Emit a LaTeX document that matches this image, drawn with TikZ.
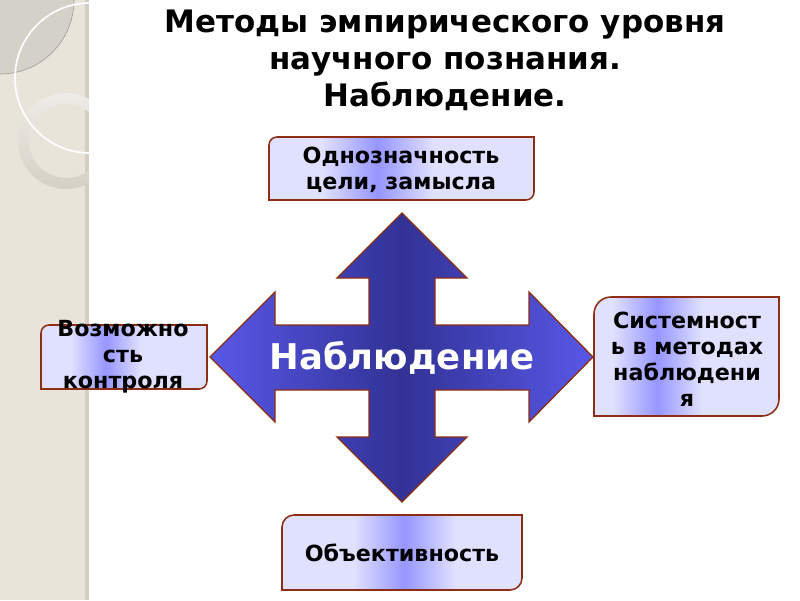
\documentclass[tikz,border=0pt]{standalone}
\usepackage{fontspec}
\setmainfont{DejaVu Sans}
\usetikzlibrary{positioning}
\definecolor{strip}{RGB}{233,228,217}
\definecolor{stripedge}{RGB}{212,206,194}
\definecolor{leaf}{RGB}{212,209,201}
\definecolor{ringlight}{RGB}{238,236,232}
\definecolor{ringdark}{RGB}{212,208,197}
\definecolor{frame}{RGB}{140,45,20}
\definecolor{lav}{RGB}{224,224,255}
\definecolor{band}{RGB}{150,150,255}
\definecolor{arrowdark}{RGB}{50,50,150}
\definecolor{arrowlight}{RGB}{88,88,232}
\pgfdeclarehorizontalshading{bandtop}{100bp}{color(0bp)=(lav); color(35bp)=(lav); color(45.5bp)=(band); color(56bp)=(lav); color(100bp)=(lav)}
\pgfdeclarehorizontalshading{bandleft}{100bp}{color(0bp)=(lav); color(34bp)=(lav); color(44.5bp)=(band); color(55bp)=(lav); color(100bp)=(lav)}
\pgfdeclarehorizontalshading{bandright}{100bp}{color(0bp)=(lav); color(30bp)=(lav); color(42bp)=(band); color(54bp)=(lav); color(100bp)=(lav)}
\pgfdeclarehorizontalshading{bandbottom}{100bp}{color(0bp)=(lav); color(40bp)=(lav); color(50.5bp)=(band); color(61bp)=(lav); color(100bp)=(lav)}
\tikzset{px/.style={x=0.025cm,y=-0.025cm}}
\tikzset{boxline/.style={draw=frame,line width=1.1pt,shade}}
\tikzset{boxtext/.style={font=\bfseries\fontsize{15.8}{18.6}\selectfont,align=center,inner sep=0pt}}
\tikzset{titletext/.style={font=\bfseries\fontsize{22}{26.3}\selectfont,align=center,inner sep=0pt}}
\tikzset{crossline/.style={draw=frame,line width=0.9pt,left color=arrowlight,right color=arrowlight,middle color=arrowdark}}
% corner box: x1 y1 x2 y2 radius shading
\newcommand{\cornerbox}[6]{%
	\draw[boxline,shading=#6] (#1,#2+#5) arc[start angle=180,end angle=270,radius=#5]
		-- (#3,#2) -- (#3,#4-#5) arc[start angle=0,end angle=90,radius=#5]
		-- (#1,#4) -- cycle;}

\begin{document}
\begin{tikzpicture}[px]
		\useasboundingbox (0,0) rectangle (800,600);
		\begin{scope}
			\clip (0,0) rectangle (89,600);
			\fill[strip] (0,0) rectangle (89,600);
			\fill[stripedge] (85,0) rectangle (89,600);
			\filldraw[fill=leaf,draw=gray!80,line width=0.4pt] (0,0) circle[radius=74];
			\shade[top color=ringlight,bottom color=ringdark,even odd rule] (66,141) circle[radius=48] (66,141) circle[radius=37];
			\draw[white,line width=1.2pt] (90,78) circle[radius=75];
		\end{scope}
		\cornerbox{269}{137}{534}{200}{8}{bandtop}
		\cornerbox{41}{325}{207}{389}{8}{bandleft}
		\cornerbox{594}{297}{779}{416}{17}{bandright}
		\cornerbox{282}{515}{522}{590}{12}{bandbottom}
		\begin{scope}[shift={(402,357)}]
			\draw[crossline] (0,-144) -- (65,-79) -- (33,-79) -- (33,-32) -- (127,-32)
				-- (127,-65) -- (191,0) -- (127,65) -- (127,33) -- (33,33) -- (33,80)
				-- (65,80) -- (0,145) -- (-65,80) -- (-33,80) -- (-33,33) -- (-127,33)
				-- (-127,65) -- (-192,0) -- (-127,-65) -- (-127,-32) -- (-33,-32)
				-- (-33,-79) -- (-65,-79) -- cycle;
		\end{scope}
		\node[titletext] (0) at (445,60) {Методы эмпирического уровня\\научного познания.\\Наблюдение.};
		\node[font=\bfseries\fontsize{25.2}{29}\selectfont,text=white,inner sep=0pt] (1) at (402,358) {Наблюдение};
		\node[boxtext] (2) at (401,170) {Однозначность\\цели, замысла};
		\node[boxtext] (3) at (123,357) {Возможно\\сть\\контроля};
		\node[boxtext] (4) at (687,359) {Системност\\ь в методах\\наблюдени\\я};
		\node[boxtext] (5) at (402,553) {Объективность};
	\end{tikzpicture}
\end{document}
